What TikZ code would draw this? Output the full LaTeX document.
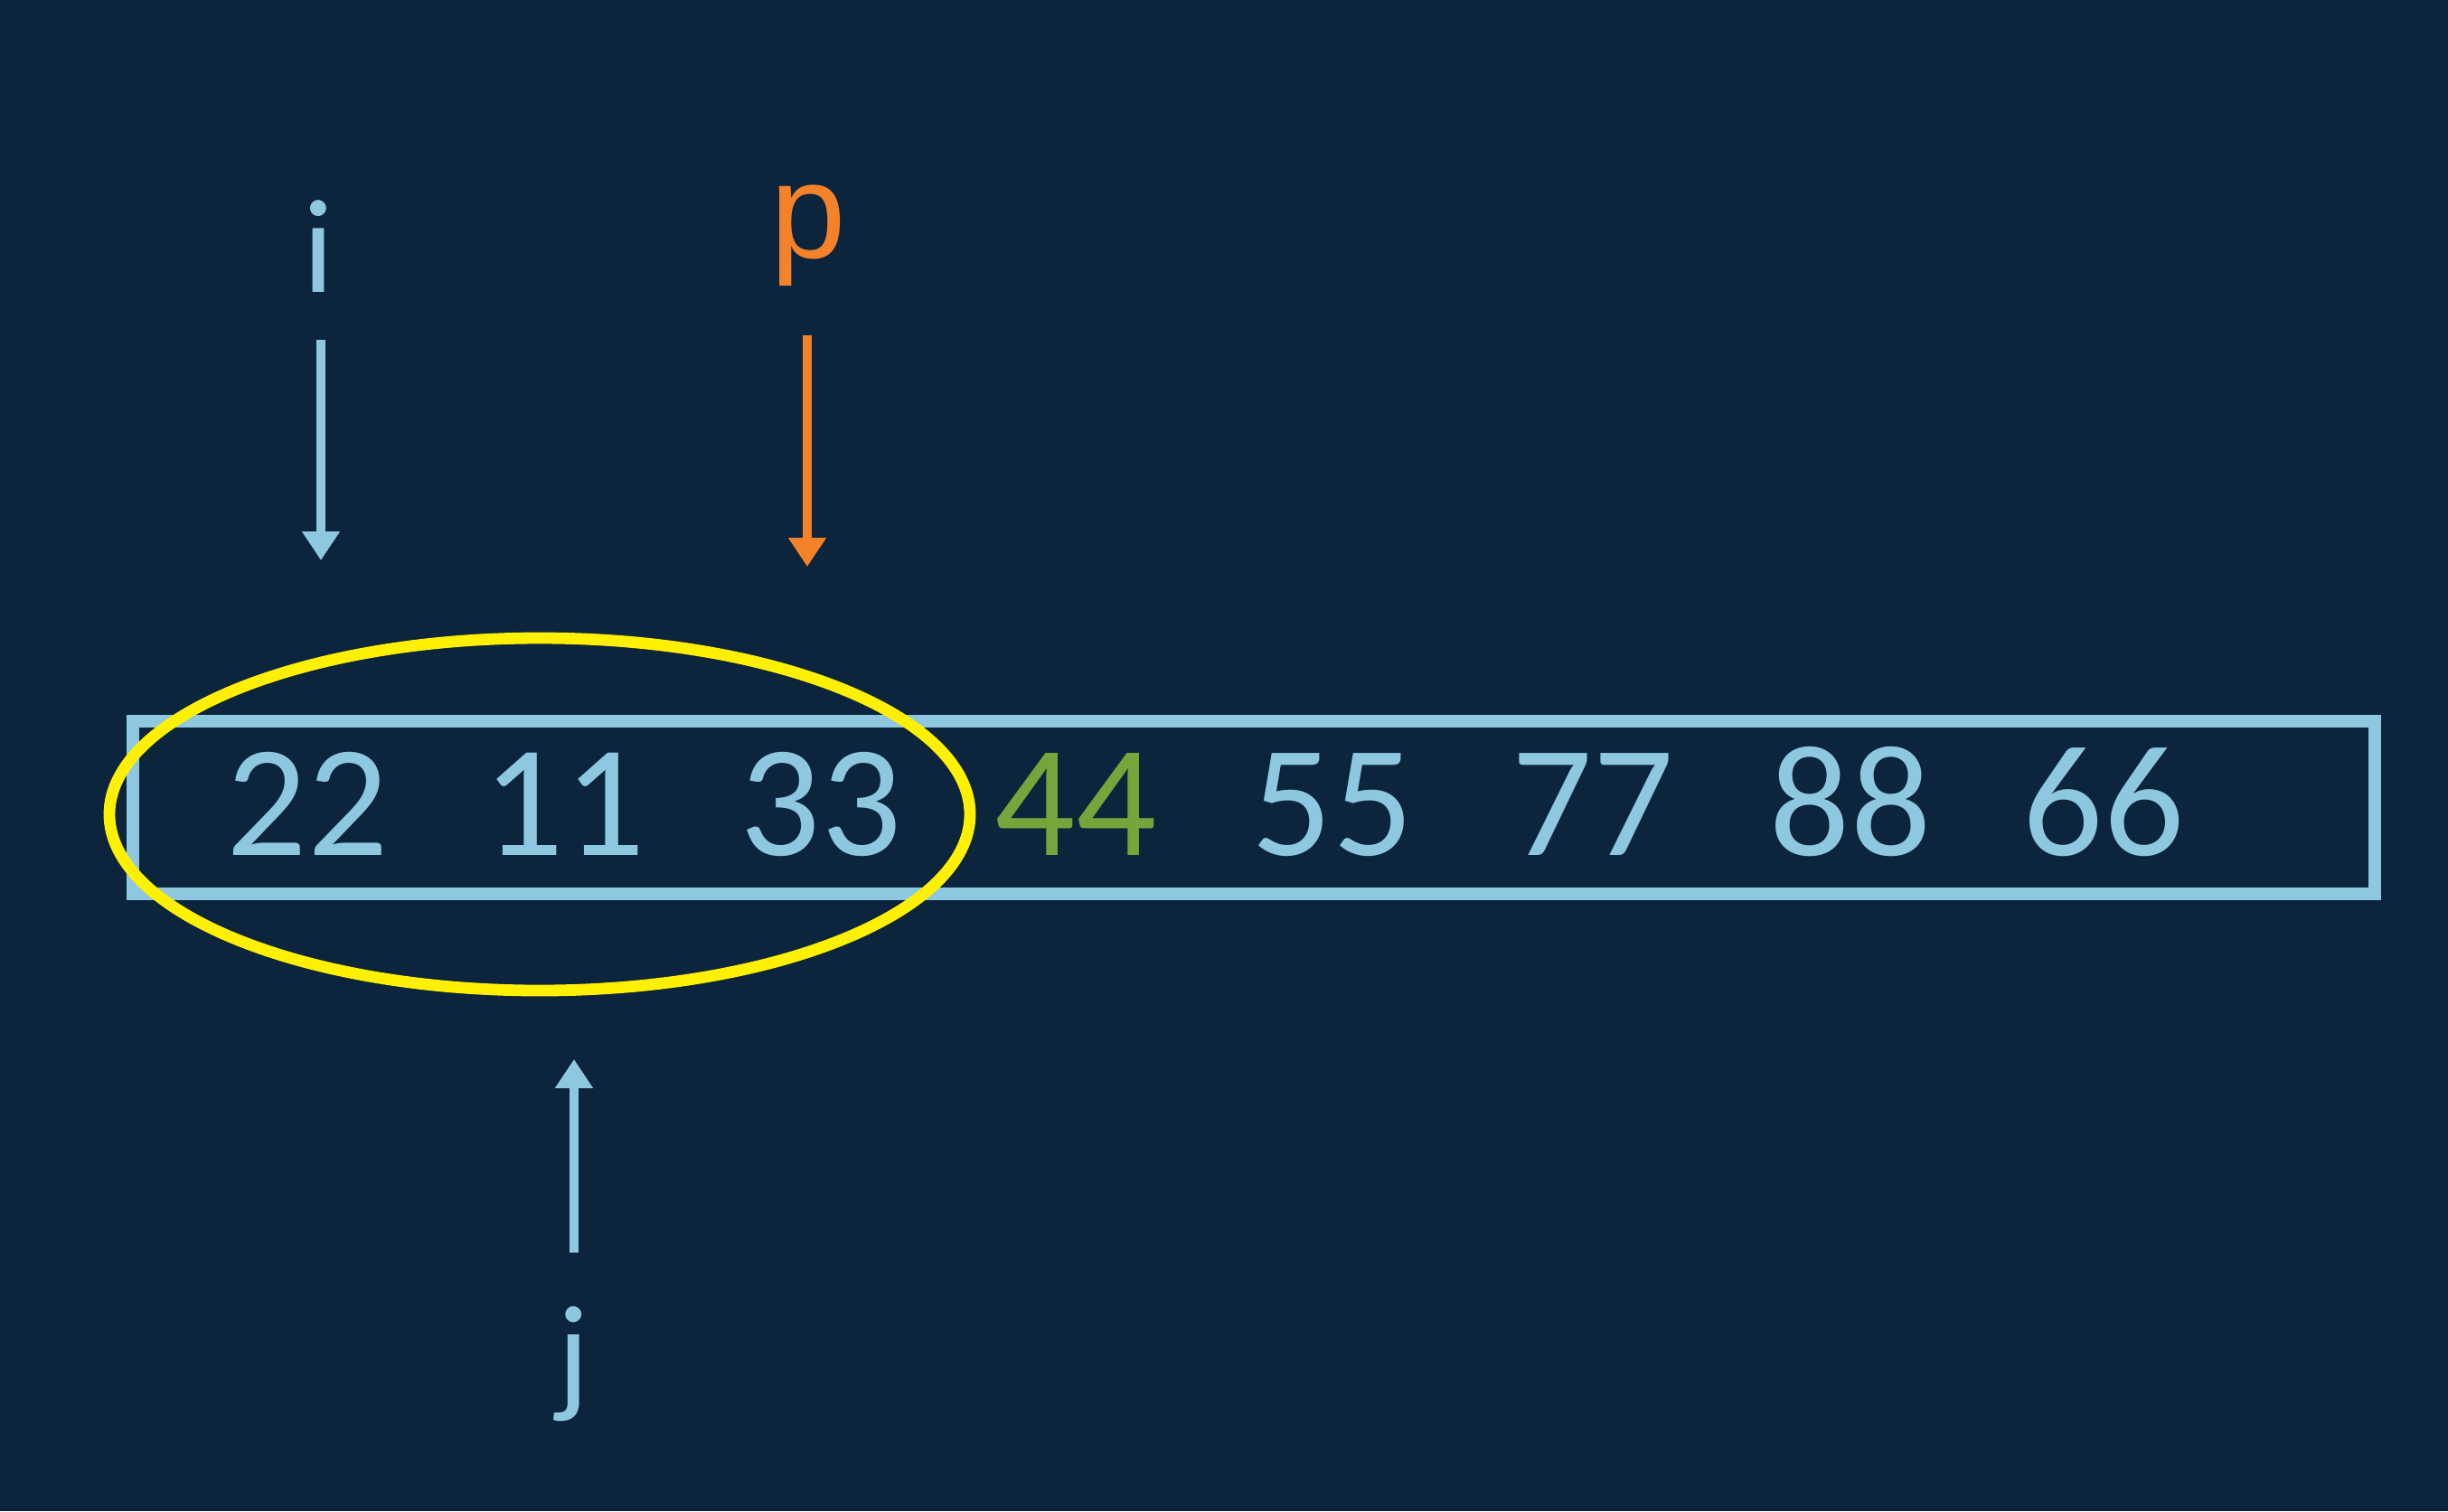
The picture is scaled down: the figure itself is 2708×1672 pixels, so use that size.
\documentclass[tikz,border=0pt]{standalone}
\usepackage{fontspec}
\setmainfont{Carlito}
\newfontfamily\arialf{Liberation Sans}
\usetikzlibrary{arrows.meta}
\definecolor{bgc}{HTML}{0C243C}
\definecolor{lblue}{HTML}{8DC8E0}
\definecolor{grn}{HTML}{78A43C}
\definecolor{ylw}{HTML}{FFF000}
\definecolor{orng}{HTML}{F4822A}
\tikzset{
  num/.style={text=lblue, font=\fontsize{44pt}{48pt}\selectfont, anchor=base, inner sep=0pt},
  lbl/.style={font=\fontsize{37pt}{40pt}\selectfont, anchor=base, inner sep=0pt},
  ptr/.style={line width=2.6pt, -{Triangle[width=10pt,length=8pt]}},
}
\begin{document}
\begin{tikzpicture}[x=0.25pt,y=-0.25pt]
\fill[bgc] (0,0) rectangle (2708,1672);
\useasboundingbox (0,0) rectangle (2708,1672);
% array box
\draw[lblue, line width=3.4pt] (147,798) rectangle (2627,989);
% numbers
\node[num] (n1) at (340,946) {22};
\node[num] (n2) at (624,946) {11};
\node[num] (n3) at (908,946) {33};
\node[num, text=grn] (n4) at (1190,946) {44};
\node[num] (n5) at (1474,946) {55};
\node[num] (n6) at (1762,946) {77};
\node[num] (n7) at (2047,946) {88};
\node[num] (n8) at (2327,946) {66};
% ellipse
\draw[ylw, line width=3.2pt] (597,901) ellipse [x radius=476, y radius=195];
% labels
\node[lbl, text=lblue] (li) at (352,323) {i};
\node[lbl, text=orng, font=\arialf\fontsize{37.5pt}{40pt}\selectfont] (lp) at (894,285) {p};
\node[lbl, text=lblue] (lj) at (634,1547) {j};
% arrows
\coordinate (ia) at (355,376);
\coordinate (ib) at (355,620);
\coordinate (pa) at (893,371);
\coordinate (pb) at (893,627);
\coordinate (ja) at (635,1386);
\coordinate (jb) at (635,1172);
\draw[ptr, lblue] (ia) -- (ib);
\draw[ptr, orng] (pa) -- (pb);
\draw[ptr, lblue] (ja) -- (jb);
\end{tikzpicture}
\end{document}
